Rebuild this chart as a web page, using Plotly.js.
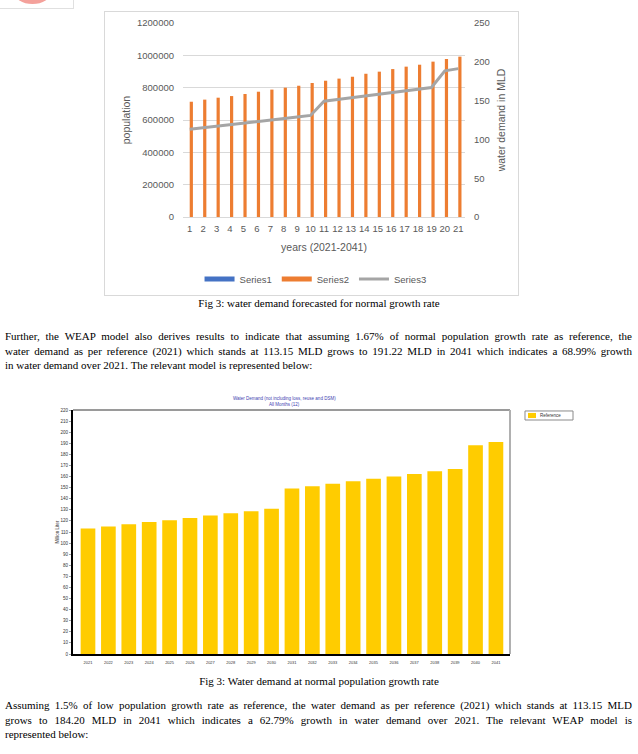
<!DOCTYPE html>
<html>
<head>
<meta charset="utf-8">
<script src="https://cdn.plot.ly/plotly-3.0.1.min.js"></script>
<style>
  html, body { margin:0; padding:0; }
  body { width:638px; height:754px; position:relative; background:#fff; overflow:hidden;
         font-family:"Liberation Serif","Times New Roman",serif; color:#000; }
  .abs { position:absolute; }
  .line { position:absolute; left:5px; width:627px; font-size:11px; line-height:13px;
          text-align:justify; text-align-last:justify; white-space:nowrap; }
  .last { text-align:left; text-align-last:left; }
  .cap { position:absolute; left:0; width:638px; font-size:11px; line-height:13px; text-align:center; }
  #chart1 { position:absolute; left:104px; top:11px; width:415px; height:285px;
            outline:1px solid #d9d9d9; outline-offset:-1px; }
  #chart2 { position:absolute; left:0px; top:385px; width:638px; height:290px; }
</style>
</head>
<body>
<div class="abs" style="left:-1px;top:-10px;width:73px;height:17px;border:1px solid #e0e0e0;"></div>
<div class="abs" style="left:14px;top:-20px;width:37px;height:24px;border-radius:50%;background:#f4a19b;"></div>

<div id="chart1"></div>
<div class="cap" style="top:297px;">Fig 3: water demand forecasted for normal growth rate</div>

<div class="line" style="top:330px;">Further, the WEAP model also derives results to indicate that assuming 1.67% of normal population growth rate as reference, the</div>
<div class="line" style="top:345px;">water demand as per reference (2021) which stands at 113.15 MLD grows to 191.22 MLD in 2041 which indicates a 68.99% growth</div>
<div class="line last" style="top:359px;">in water demand over 2021. The relevant model is represented below:</div>

<div id="chart2"></div>
<div class="cap" style="top:675px;">Fig 3: Water demand at normal population growth rate</div>

<div class="line" style="top:699px;">Assuming 1.5% of low population growth rate as reference, the water demand as per reference (2021) which stands at 113.15 MLD</div>
<div class="line" style="top:714px;">grows to 184.20 MLD in 2041 which indicates a 62.79% growth in water demand over 2021. The relevant WEAP model is</div>
<div class="line last" style="top:728px;">represented below:</div>

<script>
// ---------- Data ----------
const yearIndex = ['1','2','3','4','5','6','7','8','9','10','11','12','13','14','15','16','17','18','19','20','21'];
const series1 = [0,0,0,0,0,0,0,0,0,0,0,0,0,0,0,0,0,0,0,0,0];
const population = [713000, 726000, 738000, 748000, 761000, 775000, 788000, 800000, 812000, 829000,
                    843000, 856000, 868000, 886000, 899000, 915000, 930000, 942000, 961000, 977000, 992000];
const demandMLD = [113.15, 115.0, 117.0, 119.0, 120.6, 122.7, 124.8, 126.9, 128.8, 130.9,
                   149.2, 151.3, 153.6, 155.7, 157.9, 160.0, 162.4, 164.7, 166.9, 188.3, 191.22];
const years = ['2021','2022','2023','2024','2025','2026','2027','2028','2029','2030','2031',
               '2032','2033','2034','2035','2036','2037','2038','2039','2040','2041'];
const seriesNames = ['Series1','Series2','Series3'];
const weapTitleLines = ['Water Demand (not including loss, reuse and DSM)', 'All Months (12)'];
const weapLegend = 'Reference';

// ---------- Chart 1 (Excel style) ----------
const gray = '#595959';
const f1 = {family:'Liberation Sans, Arial, sans-serif', size:9.5, color:gray};
const traces1 = [
  {type:'bar', x:yearIndex, y:series1, name:seriesNames[0], marker:{color:'#4472C4'}, showlegend:false, hoverinfo:'skip'},
  {type:'bar', x:yearIndex, y:population, name:seriesNames[1], marker:{color:'#ED7D31'}, showlegend:false},
  {type:'scatter', x:[null], y:[null], mode:'lines', name:seriesNames[0], line:{color:'#4472C4', width:5}, yaxis:'y2', hoverinfo:'skip'},
  {type:'scatter', x:[null], y:[null], mode:'lines', name:seriesNames[1], line:{color:'#ED7D31', width:5}, yaxis:'y2', hoverinfo:'skip'},
  {type:'scatter', x:yearIndex, y:demandMLD, mode:'lines', name:seriesNames[2], line:{color:'#A5A5A5', width:3}, yaxis:'y2'}
];
const layout1 = {
  width:415, height:285,
  margin:{l:79, r:54, t:12, b:79, autoexpand:false},
  paper_bgcolor:'rgba(0,0,0,0)', plot_bgcolor:'rgba(0,0,0,0)',
  font:f1,
  barmode:'group', bargap:0.523, bargroupgap:0,
  xaxis:{type:'category', tickfont:f1, ticks:'', showgrid:false, showline:false, zeroline:false,
         automargin:false, ticklabelstandoff:4,
         title:{text:'years (2021-2041)', font:{family:f1.family, size:10.5, color:gray}, standoff:11}},
  yaxis:{range:[0,1200000], dtick:200000, tickformat:'d', tickfont:f1, showgrid:true, gridcolor:'#d9d9d9',
         gridwidth:1, zeroline:true, zerolinecolor:'#d9d9d9', zerolinewidth:1, showline:false, ticks:'',
         automargin:false, ticklabelstandoff:8,
         title:{text:'population', font:{family:f1.family, size:10.5, color:gray}, standoff:4}},
  yaxis2:{overlaying:'y', side:'right', range:[0,250], dtick:50, tickfont:f1, showgrid:false, zeroline:false,
          showline:false, ticks:'', ticklabelstandoff:8, automargin:false,
          title:{text:'water demand in MLD', font:{family:f1.family, size:10.5, color:gray}, standoff:8}},
  legend:{orientation:'h', x:0.47, xanchor:'center', yref:'container', y:0.06, yanchor:'middle', font:f1,
          itemwidth:30, bgcolor:'rgba(0,0,0,0)'},
  showlegend:true
};
Plotly.newPlot('chart1', traces1, layout1, {staticPlot:true, displayModeBar:false});

// ---------- Chart 2 (WEAP style) ----------
const f2 = {family:'Liberation Sans, Arial, sans-serif', size:4.5, color:'#333333'};
const traces2 = [
  {type:'bar', x:years, y:demandMLD, name:weapLegend, marker:{color:'#FFCC00'}, showlegend:false}
];
const layout2 = {
  width:638, height:290,
  margin:{l:73, r:128, t:25, b:21, autoexpand:false},
  paper_bgcolor:'rgba(0,0,0,0)', plot_bgcolor:'#ffffff',
  font:f2,
  bargap:0.28,
  xaxis:{type:'category', range:[-0.735, 20.69], tickfont:{family:f2.family, size:4, color:'#333'},
         showline:true, linecolor:'#000', linewidth:2, ticks:'', showgrid:false, zeroline:false,
         automargin:false, ticklabelstandoff:3},
  yaxis:{range:[0,220], dtick:10, tickfont:f2, showline:true, linecolor:'#000', linewidth:2,
         ticks:'outside', ticklen:2, tickcolor:'#444', tickwidth:0.5, showgrid:false, zeroline:false,
         automargin:false, title:{text:'Million Liter', font:f2, standoff:1}},
  shapes:[
    {type:'line', xref:'paper', yref:'paper', x0:0, x1:1, y0:1, y1:1, line:{color:'#9a9a9a', width:2}},
    {type:'line', xref:'paper', yref:'paper', x0:1, x1:1, y0:0, y1:1, line:{color:'#b0b0b0', width:2}},
    {type:'rect', xref:'paper', yref:'paper', x0:1.0343, x1:1.1442, y0:0.959, y1:0.996,
     line:{color:'#8a8a8a', width:1}, fillcolor:'#ffffff'},
    {type:'rect', xref:'paper', yref:'paper', x0:1.0412, x1:1.0595, y0:0.967, y1:0.988,
     line:{width:0}, fillcolor:'#FFCC00'}
  ],
  annotations:[
    {xref:'paper', yref:'paper', x:1.064, y:0.977, xanchor:'left', yanchor:'middle', showarrow:false,
     text:weapLegend, font:{family:f2.family, size:4.5, color:'#333'}},
    {xref:'paper', yref:'paper', x:0.483, y:1.046, xanchor:'center', yanchor:'middle', showarrow:false,
     text:weapTitleLines[0], font:{family:f2.family, size:4.5, color:'#4040b0'}},
    {xref:'paper', yref:'paper', x:0.483, y:1.021, xanchor:'center', yanchor:'middle', showarrow:false,
     text:weapTitleLines[1], font:{family:f2.family, size:4.5, color:'#4040b0'}}
  ],
  showlegend:false
};
Plotly.newPlot('chart2', traces2, layout2, {staticPlot:true, displayModeBar:false});
</script>
</body>
</html>
